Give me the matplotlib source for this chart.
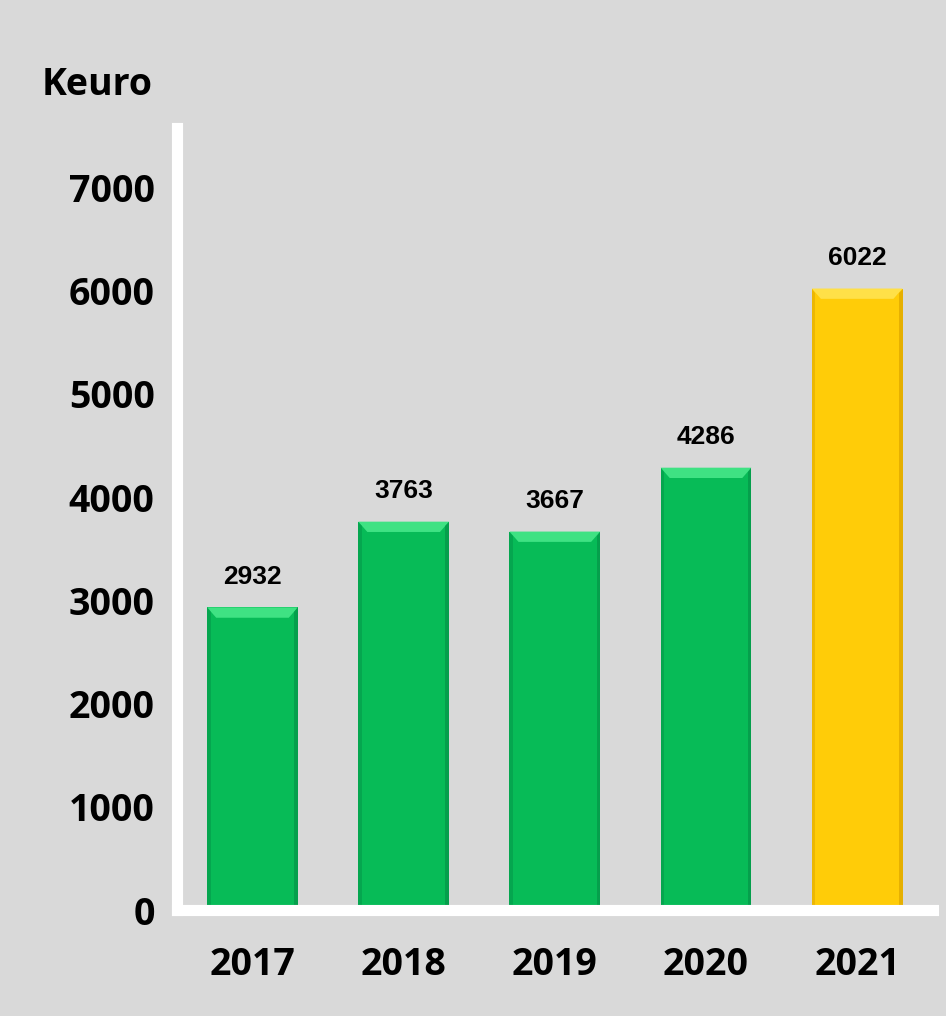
import matplotlib
matplotlib.use('Agg')
import matplotlib.pyplot as plt
from matplotlib.patches import Polygon

# Dati
years = ['2017', '2018', '2019', '2020', '2021']
values = [2932, 3763, 3667, 4286, 6022]
bar_colors = ['#07BB57', '#07BB57', '#07BB57', '#07BB57', '#FFCC08']
light_colors = ['#3FE283', '#3FE283', '#3FE283', '#3FE283', '#FFE048']
dark_colors = ['#05994A', '#05994A', '#05994A', '#05994A', '#E0AA00']
yticks = [0, 1000, 2000, 3000, 4000, 5000, 6000, 7000]

bg = '#D9D9D9'
fig = plt.figure(figsize=(9.46, 10.16), dpi=100, facecolor=bg)
ax = fig.add_axes([0.187, 0.1043, 0.799, 0.7700], facecolor=bg)

x = list(range(len(years)))
width = 0.6
bars = ax.bar(x, values, width=width, color=bar_colors, zorder=2)

ax.set_xlim(-0.5, 4.5)
ax.set_ylim(0, 7580)

# effetto bisello sui bordi delle barre
dx = 0.06
dy = 100
for rect, c_light, c_dark in zip(bars, light_colors, dark_colors):
    x0 = rect.get_x()
    x1 = x0 + rect.get_width()
    top = rect.get_height()
    ax.add_patch(Polygon([(x0, top), (x1, top), (x1 - dx, top - dy), (x0 + dx, top - dy)],
                         closed=True, color=c_light, zorder=3, lw=0))
    ax.add_patch(Polygon([(x1, top), (x1, 0), (x1 - dx * 0.4, 0), (x1 - dx * 0.4, top - dy * 0.4)],
                         closed=True, color=c_dark, zorder=3, lw=0, alpha=0.8))
    ax.add_patch(Polygon([(x0, top), (x0, 0), (x0 + dx * 0.4, 0), (x0 + dx * 0.4, top - dy * 0.4)],
                         closed=True, color=c_dark, zorder=3, lw=0, alpha=0.6))

# etichette sopra le barre
for xi, v in zip(x, values):
    ax.annotate(str(v), (xi, v), xytext=(0, 22), textcoords='offset points',
                ha='center', va='center', fontsize=19, fontweight='bold',
                family='Liberation Sans', color='black')

# assi bianchi
for side in ['top', 'right']:
    ax.spines[side].set_visible(False)
for side in ['left', 'bottom']:
    ax.spines[side].set_color('white')
    ax.spines[side].set_linewidth(8)
    ax.spines[side].set_zorder(4)

ax.set_xticks(x)
ax.set_xticklabels(years, fontsize=27, fontweight='bold', family='Open Sans')
ax.set_yticks(yticks)
ax.set_yticklabels([str(t) for t in yticks], fontsize=27, fontweight='bold', family='Open Sans')
ax.tick_params(axis='both', length=0)
ax.tick_params(axis='x', pad=26)
ax.tick_params(axis='y', pad=16)

fig.text(153 / 946, 1 - 85 / 1016, 'Keuro', ha='right', va='center',
         fontsize=27, fontweight='bold', family='Open Sans')

plt.savefig('out.png', dpi=100, facecolor=bg)
